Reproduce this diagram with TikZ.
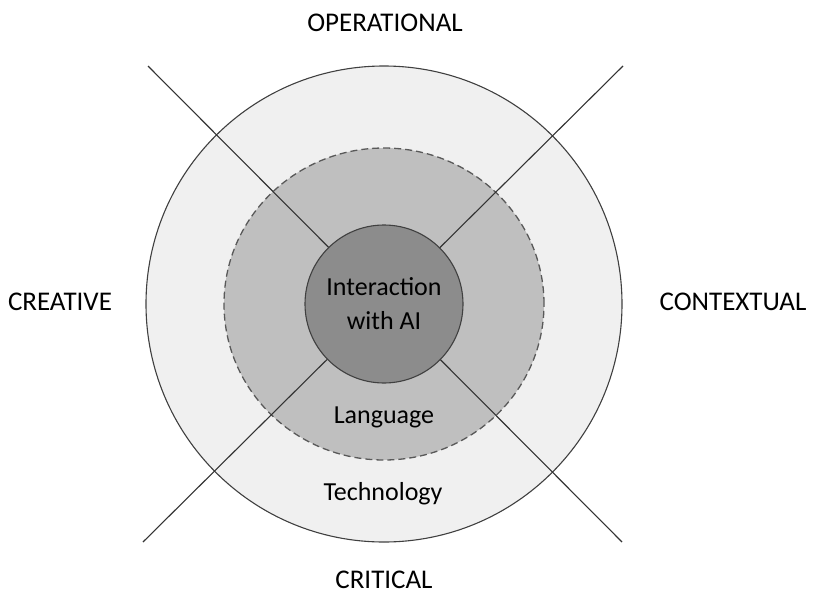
\documentclass[tikz,border=0pt]{standalone}
\usepackage{fontspec}
\setmainfont{Carlito}
\usetikzlibrary{shapes.geometric}

\begin{document}
\begin{tikzpicture}[x=1pt,y=-1pt,
        ring/.style={circle, draw=black!75, line width=1.1pt, inner sep=0pt},
        axis label/.style={font=\fontsize{27}{32}\selectfont, anchor=base},
        ring label/.style={font=\fontsize{26}{34}\selectfont, align=center}]
        \useasboundingbox (0,0) rectangle (820,600);
        \coordinate (c) at (384,304);
        \coordinate (nw) at (148,66);
        \coordinate (se) at (622,542);
        \coordinate (ne) at (623,66);
        \coordinate (sw) at (143,542);
        % rings
        \node[ring, fill=black!6, minimum size=476pt] (tech) at (c) {};
        \node[ring, ellipse, fill=black!25, draw=black!65, line width=1.3pt, dash pattern=on 7pt off 4pt, minimum width=320pt, minimum height=312pt] (lang) at (c) {};
        \draw[black!80, line width=1.1pt] (nw) -- (se) ;
        \draw[black!80, line width=1.1pt] (ne) -- (sw) ;
        \node[ring, fill=black!45, minimum size=158pt, ring label] (core) at (c) {Interaction\\with AI};
        \node[ring label, anchor=base] (langtext) at (384,423) {Language};
        \node[ring label, anchor=base] (techtext) at (383,500) {Technology};
        % dimensions
        \node[axis label] (oper) at (385,31) {OPERATIONAL};
        \node[axis label] (crea) at (60,310) {CREATIVE};
        \node[axis label] (cont) at (733,310) {CONTEXTUAL};
        \node[axis label] (crit) at (384,588) {CRITICAL};
    \end{tikzpicture}
\end{document}
